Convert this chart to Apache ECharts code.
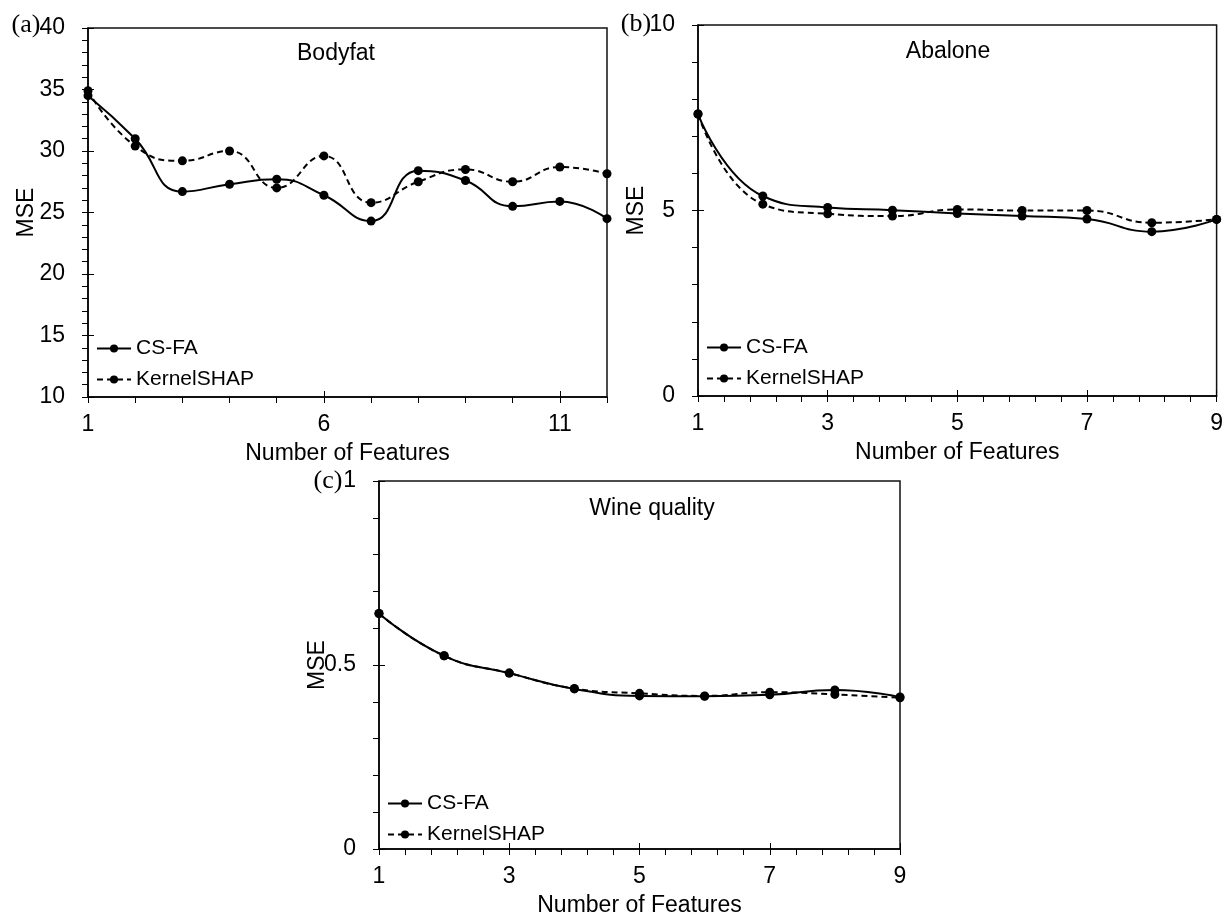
<!DOCTYPE html>
<html>
<head>
<meta charset="utf-8">
<script src="https://cdn.jsdelivr.net/npm/echarts@6/dist/echarts.min.js"></script>
<style>
  html, body { margin: 0; padding: 0; background: #fff; }
  #chart { width: 1226px; height: 918px; }
</style>
</head>
<body>
<div id="chart"></div>
<script>
// Number of features kept, per dataset
const featuresBodyfat = [1, 2, 3, 4, 5, 6, 7, 8, 9, 10, 11, 12];
const featuresAbalone = [1, 2, 3, 4, 5, 6, 7, 8, 9];
const featuresWine = [1, 2, 3, 4, 5, 6, 7, 8, 9];

// MSE for each method
const bodyfatCSFA = [34.5, 31.0, 26.7, 27.3, 27.7, 26.4, 24.3, 28.4, 27.6, 25.5, 25.9, 24.5];
const bodyfatKernelSHAP = [34.9, 30.4, 29.2, 30.0, 27.0, 29.6, 25.8, 27.5, 28.5, 27.5, 28.7, 28.15];
const abaloneCSFA = [7.6, 5.39, 5.08, 5.01, 4.92, 4.85, 4.77, 4.43, 4.76];
const abaloneKernelSHAP = [7.6, 5.17, 4.91, 4.85, 5.03, 5.0, 5.0, 4.67, 4.76];
const wineCSFA = [0.64, 0.525, 0.478, 0.435, 0.416, 0.415, 0.419, 0.432, 0.413];
const wineKernelSHAP = [0.64, 0.525, 0.478, 0.436, 0.423, 0.416, 0.426, 0.420, 0.411];

// Labelled x ticks
const bodyfatXTicks = [1, 6, 11];
const nineXTicks = [1, 3, 5, 7, 9];

// Minor x ticks: five steps between labelled ticks
function minorSteps(majors, max) {
  const out = [];
  const step = (majors[1] - majors[0]) / 5;
  for (let m = majors[0]; m < max - 1e-9; m += step) out.push(+m.toFixed(4));
  out.push(max);
  return out;
}

const SANS = '"Liberation Sans", Arial, sans-serif';
const SERIF = '"Liberation Serif", "Times New Roman", serif';
const FS = 23;

const panels = [
  { tag: '(a)', title: 'Bodyfat', x: featuresBodyfat, a: bodyfatCSFA, b: bodyfatKernelSHAP,
    xMin: 1, xMax: 12, xTicks: bodyfatXTicks, yMin: 10, yMax: 40, yInt: 5,
    rect: { left: 88, top: 28, width: 519, height: 369 },
    tagPos: [26, 25], titlePos: [336, 54] },
  { tag: '(b)', title: 'Abalone', x: featuresAbalone, a: abaloneCSFA, b: abaloneKernelSHAP,
    xMin: 1, xMax: 9, xTicks: nineXTicks, yMin: 0, yMax: 10, yInt: 5,
    rect: { left: 698, top: 25, width: 520, height: 371 },
    tagPos: [636, 24], titlePos: [948, 52] },
  { tag: '(c)', title: 'Wine quality', x: featuresWine, a: wineCSFA, b: wineKernelSHAP,
    xMin: 1, xMax: 9, xTicks: nineXTicks, yMin: 0, yMax: 1, yInt: 0.5,
    rect: { left: 379, top: 481, width: 521, height: 371 },
    tagPos: [328, 481], titlePos: [652, 509] }
];

const grid = [], xAxis = [], yAxis = [], series = [], legend = [], graphic = [];
const black = '#000';

panels.forEach((p, i) => {
  const r = p.rect;
  grid.push(Object.assign({ show: true, borderColor: '#111', borderWidth: 1.5, backgroundColor: 'transparent' }, r));

  const tickX = p.xMax === 12 ? p.x : minorSteps(p.xTicks, p.xMax);
  // main x axis: line, outer ticks, labels, title
  xAxis.push({
    type: 'value', gridIndex: i, min: p.xMin, max: p.xMax, position: 'bottom',
    axisLine: { show: true, onZero: false, lineStyle: { color: black, width: 1.5 } },
    axisTick: { show: true, customValues: tickX, length: 6, lineStyle: { color: black, width: 1 } },
    axisLabel: { customValues: p.xTicks, margin: 16, fontSize: FS, color: black, fontFamily: SANS },
    splitLine: { show: false },
    name: 'Number of Features', nameLocation: 'middle', nameGap: 45, nameMoveOverlap: false,
    nameTextStyle: { fontSize: FS, color: black, fontFamily: SANS }
  });
  // overlay x axis: inner half of the labelled ticks
  xAxis.push({
    type: 'value', gridIndex: i, min: p.xMin, max: p.xMax, position: 'bottom',
    axisLine: { show: false },
    axisTick: { show: true, inside: true, customValues: p.xTicks, length: 6, lineStyle: { color: black, width: 1 } },
    axisLabel: { show: false }, splitLine: { show: false }
  });

  yAxis.push({
    type: 'value', gridIndex: i, min: p.yMin, max: p.yMax, interval: p.yInt, position: 'left',
    axisLine: { show: true, onZero: false, lineStyle: { color: black, width: 1.5 } },
    axisTick: { show: true, length: 6, lineStyle: { color: black, width: 1 } },
    minorTick: { show: true, splitNumber: 5, length: 6, lineStyle: { color: black, width: 1 } },
    axisLabel: { margin: 23, fontSize: FS, color: black, fontFamily: SANS },
    splitLine: { show: false }, minorSplitLine: { show: false },
    name: 'MSE', nameLocation: 'middle', nameGap: 50, nameMoveOverlap: false,
    nameTextStyle: { fontSize: FS, color: black, fontFamily: SANS }
  });
  yAxis.push({
    type: 'value', gridIndex: i, min: p.yMin, max: p.yMax, interval: p.yInt, position: 'left',
    axisLine: { show: false },
    axisTick: { show: true, inside: true, length: 6, lineStyle: { color: black, width: 1 } },
    axisLabel: { show: false }, splitLine: { show: false }
  });

  const common = {
    type: 'line', xAxisIndex: 2 * i, yAxisIndex: 2 * i, smooth: 0.5,
    symbol: 'circle', symbolSize: 9, clip: false, z: 5,
    itemStyle: { color: black }
  };
  series.push(Object.assign({}, common, {
    name: 'CS-FA',
    data: p.x.map((v, k) => [v, p.a[k]]),
    lineStyle: { color: black, width: 2, type: 'solid' }
  }));
  series.push(Object.assign({}, common, {
    name: 'KernelSHAP',
    data: p.x.map((v, k) => [v, p.b[k]]),
    lineStyle: { color: black, width: 2, type: [6, 4] }
  }));

  legend.push({
    orient: 'vertical', left: r.left + 8, top: r.top + r.height - 59, padding: 0,
    itemWidth: 34, itemHeight: 10, itemGap: 10, itemStyle: { color: black },
    selectedMode: false,
    textStyle: { fontSize: 21, lineHeight: 21, color: black, fontFamily: SANS },
    data: ['CS-FA', 'KernelSHAP']
  });

  graphic.push({
    type: 'text', x: p.titlePos[0], y: p.titlePos[1],
    style: { text: p.title, fontSize: FS, fill: black, fontFamily: SANS, align: 'center', verticalAlign: 'middle' }
  });
  graphic.push({
    type: 'text', x: p.tagPos[0], y: p.tagPos[1],
    style: { text: p.tag, fontSize: 26, fill: black, fontFamily: SERIF, align: 'center', verticalAlign: 'middle' }
  });
});

const chart = echarts.init(document.getElementById('chart'), null, { renderer: 'canvas' });
chart.setOption({
  backgroundColor: '#fff',
  animation: false,
  grid, xAxis, yAxis, series, legend, graphic
});
</script>
</body>
</html>
